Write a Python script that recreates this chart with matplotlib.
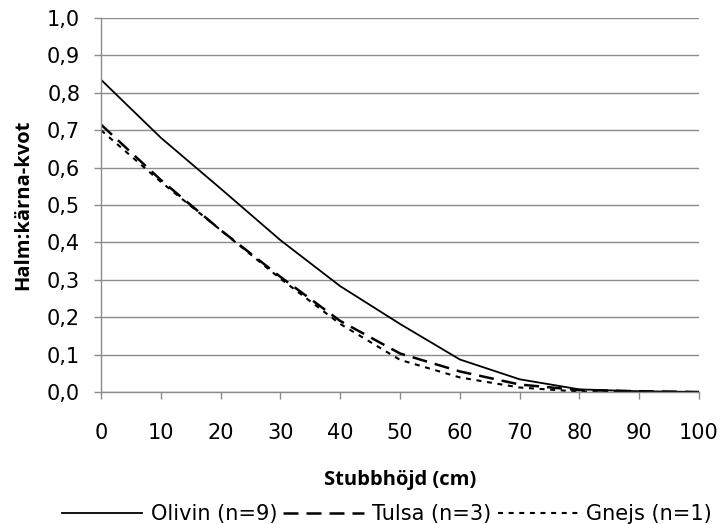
import matplotlib
matplotlib.use("Agg")
import matplotlib.pyplot as plt
from matplotlib.ticker import FuncFormatter, MultipleLocator

x = [0, 10, 20, 30, 40, 50, 60, 70, 80, 90, 100]
olivin = [0.835, 0.68, 0.544, 0.406, 0.283, 0.182, 0.087, 0.034, 0.007, 0.002, 0.0]
tulsa = [0.715, 0.567, 0.433, 0.308, 0.19, 0.103, 0.055, 0.02, 0.005, 0.002, 0.0]
gnejs = [0.70, 0.562, 0.433, 0.303, 0.182, 0.086, 0.039, 0.012, 0.001, 0.0, 0.0]
labels = ["Olivin (n=9)", "Tulsa (n=3)", "Gnejs (n=1)"]

plt.rcParams['font.family'] = ['DejaVu Sans']
fig = plt.figure(figsize=(7.22, 5.24), dpi=100)
ax = fig.add_axes([101/722, 1-392/524, 598/722, 374/524])

ax.plot(x, olivin, color='black', lw=1.3, linestyle='-', label=labels[0])
ax.plot(x, tulsa, color='black', lw=1.8, linestyle=(0, (6, 3.2)), label=labels[1])
ax.plot(x, gnejs, color='black', lw=1.5, linestyle=(0, (2.4, 2.7)), label=labels[2])

ax.set_xlim(0, 100)
ax.set_ylim(0, 1.0)
ax.xaxis.set_major_locator(MultipleLocator(10))
ax.yaxis.set_major_locator(MultipleLocator(0.1))
ax.yaxis.set_major_formatter(FuncFormatter(lambda v, p: f"{v:.1f}".replace('.', ',')))
ax.grid(axis='y', color='#8c8c8c', lw=1)
ax.set_axisbelow(True)
for s in ['top', 'right']:
    ax.spines[s].set_visible(False)
for s in ['left', 'bottom']:
    ax.spines[s].set_color('#8c8c8c')
    ax.spines[s].set_linewidth(1)
ax.tick_params(axis='both', colors='#8c8c8c', labelcolor='black', labelsize=15, length=5, width=1, direction='out')
ax.tick_params(axis='x', pad=17)
ax.tick_params(axis='y', pad=10)

ax.set_xlabel("Stubbhöjd (cm)", fontsize=14.5, fontweight='bold', labelpad=20,
              fontfamily=['Open Sans', 'DejaVu Sans'])
ax.set_ylabel("Halm:kärna-kvot", fontsize=14.5, fontweight='bold', labelpad=10,
              fontfamily=['Open Sans', 'DejaVu Sans'])

leg = fig.legend(loc='center', bbox_to_anchor=(387/722, 1-514/524), ncol=3, frameon=False,
                 fontsize=15, handlelength=3.85, handletextpad=0.4, columnspacing=0.3,
                 borderpad=0, borderaxespad=0)

fig.savefig("out.png", dpi=100)
